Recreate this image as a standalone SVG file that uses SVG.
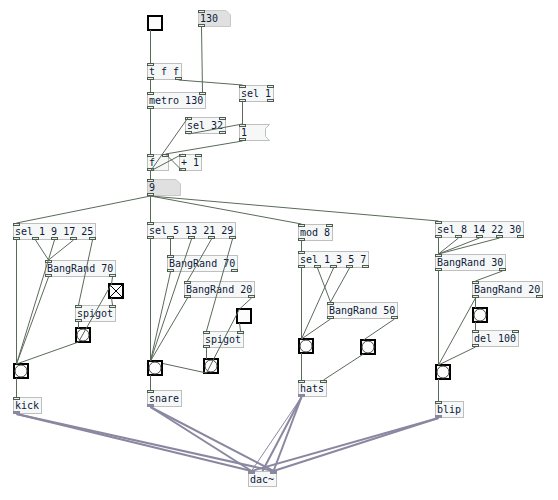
<svg xmlns="http://www.w3.org/2000/svg" xmlns:xlink="http://www.w3.org/1999/xlink" width="558" height="500" viewBox="0 0 558 500">
<style>
.box{fill:#f6f8f8;stroke:#bfbfbf;stroke-width:1}
.atom{fill:#e0e0e0;stroke:#c8c8c8;stroke-width:1}
.t{font-family:"DejaVu Sans Mono",monospace;font-size:10px;fill:#0d1a3a}
.c{stroke:#5a6a5a;stroke-width:1;fill:none}
.s{stroke:#8a88a0;stroke-width:2;fill:none}
.gui{fill:#fcfcfc;stroke:#000;stroke-width:2}
.ring{fill:none;stroke:#444;stroke-width:1}
.x{stroke:#000;stroke-width:1}
</style>
<defs>
<rect id="io" x="0.5" y="0.5" width="6" height="2" fill="#e8eee8" stroke="#4e5e4e" stroke-width="1"/>
<rect id="sio" x="0" y="0" width="7" height="3" fill="#8a88a0"/>
</defs>
<rect width="558" height="500" fill="#fff"/>

<g id="nodes">
<g id="toggle-start"><rect class="gui" x="148" y="16" width="14" height="14"/></g>
<g id="atom-130"><polygon class="atom" points="198.5,10.5 226,10.5 230.5,15 230.5,26.5 198.5,26.5"/><text class="t" x="200" y="22">130</text><use href="#io" x="198" y="10"/><use href="#io" x="198" y="24"/></g>
<g id="tff"><rect class="box" x="147.5" y="63.5" width="34" height="16"/><text class="t" x="149" y="75">t f f</text><use href="#io" x="147" y="63"/><use href="#io" x="147" y="77"/><use href="#io" x="175" y="77"/></g>
<g id="metro"><rect class="box" x="147.5" y="92.5" width="58" height="16"/><text class="t" x="149" y="104">metro 130</text><use href="#io" x="147" y="92"/><use href="#io" x="199" y="92"/><use href="#io" x="147" y="106"/></g>
<g id="sel1"><rect class="box" x="239.5" y="85.5" width="34" height="16"/><text class="t" x="241" y="97">sel 1</text><use href="#io" x="239" y="85"/><use href="#io" x="267" y="85"/><use href="#io" x="239" y="99"/><use href="#io" x="267" y="99"/></g>
<g id="sel32"><rect class="box" x="185.5" y="117.5" width="40" height="16"/><text class="t" x="187" y="129">sel 32</text><use href="#io" x="185" y="117"/><use href="#io" x="219" y="117"/><use href="#io" x="185" y="131"/><use href="#io" x="219" y="131"/></g>
<g id="msg1"><polygon class="box" points="239.5,124.5 269.5,124.5 265.5,128.5 265.5,136.5 269.5,140.5 239.5,140.5"/><text class="t" x="241" y="136">1</text><use href="#io" x="239" y="124"/><use href="#io" x="239" y="138"/></g>
<g id="f"><rect class="box" x="147.5" y="154.5" width="21" height="16"/><text class="t" x="149" y="166">f</text><use href="#io" x="147" y="154"/><use href="#io" x="162" y="154"/><use href="#io" x="147" y="168"/></g>
<g id="plus1"><rect class="box" x="179.5" y="154.5" width="22" height="16"/><text class="t" x="181" y="166">+ 1</text><use href="#io" x="179" y="154"/><use href="#io" x="195" y="154"/><use href="#io" x="179" y="168"/></g>
<g id="num9"><polygon class="atom" points="147.5,179.5 176,179.5 180.5,184 180.5,195.5 147.5,195.5"/><text class="t" x="149" y="191">9</text><use href="#io" x="147" y="179"/><use href="#io" x="147" y="193"/></g>

<g id="selA"><rect class="box" x="13.5" y="223.5" width="82" height="16"/><text class="t" x="15" y="235">sel 1 9 17 25</text><use href="#io" x="13" y="223"/><use href="#io" x="13" y="237"/><use href="#io" x="32" y="237"/><use href="#io" x="51" y="237"/><use href="#io" x="70" y="237"/><use href="#io" x="89" y="237"/></g>
<g id="br70a"><rect class="box" x="45.5" y="260.5" width="70" height="16"/><text class="t" x="47" y="272">BangRand 70</text><use href="#io" x="45" y="260"/><use href="#io" x="45" y="274"/><use href="#io" x="109" y="274"/></g>
<g id="togA"><rect class="gui" x="109" y="284" width="14" height="14"/><line class="x" x1="110" y1="285" x2="122" y2="297"/><line class="x" x1="122" y1="285" x2="110" y2="297"/></g>
<g id="spigotA"><rect class="box" x="75.5" y="305.5" width="40" height="16"/><text class="t" x="77" y="317">spigot</text><use href="#io" x="75" y="305"/><use href="#io" x="109" y="305"/><use href="#io" x="75" y="319"/></g>
<g id="bangA2"><rect class="gui" x="76" y="328" width="14" height="14"/><circle class="ring" cx="83" cy="335" r="6"/></g>
<g id="bangA1"><rect class="gui" x="14" y="364" width="14" height="14"/><circle class="ring" cx="21" cy="371" r="6"/></g>
<g id="kick"><rect class="box" x="13.5" y="397.5" width="28" height="16"/><text class="t" x="15" y="409">kick</text><use href="#io" x="13" y="397"/><use href="#sio" x="13" y="411"/></g>

<g id="selB"><rect class="box" x="147.5" y="222.5" width="88" height="16"/><text class="t" x="149" y="234">sel 5 13 21 29</text><use href="#io" x="147" y="222"/><use href="#io" x="147" y="236"/><use href="#io" x="167" y="236"/><use href="#io" x="188" y="236"/><use href="#io" x="208" y="236"/><use href="#io" x="229" y="236"/></g>
<g id="br70b"><rect class="box" x="167.5" y="255.5" width="70" height="16"/><text class="t" x="169" y="267">BangRand 70</text><use href="#io" x="167" y="255"/><use href="#io" x="167" y="269"/><use href="#io" x="231" y="269"/></g>
<g id="br20b"><rect class="box" x="184.5" y="281.5" width="70" height="16"/><text class="t" x="186" y="293">BangRand 20</text><use href="#io" x="184" y="281"/><use href="#io" x="184" y="295"/><use href="#io" x="248" y="295"/></g>
<g id="togB"><rect class="gui" x="237" y="309" width="14" height="14"/></g>
<g id="spigotB"><rect class="box" x="203.5" y="331.5" width="40" height="16"/><text class="t" x="205" y="343">spigot</text><use href="#io" x="203" y="331"/><use href="#io" x="237" y="331"/><use href="#io" x="203" y="345"/></g>
<g id="bangB2"><rect class="gui" x="204" y="359" width="14" height="14"/><circle class="ring" cx="211" cy="366" r="6"/></g>
<g id="bangB1"><rect class="gui" x="148" y="361" width="14" height="14"/><circle class="ring" cx="155" cy="368" r="6"/></g>
<g id="snare"><rect class="box" x="147.5" y="390.5" width="34" height="16"/><text class="t" x="149" y="402">snare</text><use href="#io" x="147" y="390"/><use href="#sio" x="147" y="404"/></g>

<g id="mod8"><rect class="box" x="298.5" y="224.5" width="34" height="16"/><text class="t" x="300" y="236">mod 8</text><use href="#io" x="298" y="224"/><use href="#io" x="326" y="224"/><use href="#io" x="298" y="238"/></g>
<g id="selC"><rect class="box" x="298.5" y="251.5" width="70" height="16"/><text class="t" x="300" y="263">sel 1 3 5 7</text><use href="#io" x="298" y="251"/><use href="#io" x="298" y="265"/><use href="#io" x="314" y="265"/><use href="#io" x="330" y="265"/><use href="#io" x="346" y="265"/><use href="#io" x="362" y="265"/></g>
<g id="br50"><rect class="box" x="327.5" y="302.5" width="70" height="16"/><text class="t" x="329" y="314">BangRand 50</text><use href="#io" x="327" y="302"/><use href="#io" x="327" y="316"/><use href="#io" x="391" y="316"/></g>
<g id="bangC1"><rect class="gui" x="299" y="339" width="14" height="14"/><circle class="ring" cx="306" cy="346" r="6"/></g>
<g id="bangC2"><rect class="gui" x="361" y="340" width="14" height="14"/><circle class="ring" cx="368" cy="347" r="6"/></g>
<g id="hats"><rect class="box" x="298.5" y="380.5" width="28" height="16"/><text class="t" x="300" y="392">hats</text><use href="#io" x="298" y="380"/><use href="#io" x="320" y="380"/><use href="#sio" x="298" y="394"/></g>

<g id="selD"><rect class="box" x="435.5" y="221.5" width="88" height="16"/><text class="t" x="437" y="233">sel 8 14 22 30</text><use href="#io" x="435" y="221"/><use href="#io" x="435" y="235"/><use href="#io" x="455" y="235"/><use href="#io" x="476" y="235"/><use href="#io" x="496" y="235"/><use href="#io" x="517" y="235"/></g>
<g id="br30"><rect class="box" x="435.5" y="254.5" width="70" height="16"/><text class="t" x="437" y="266">BangRand 30</text><use href="#io" x="435" y="254"/><use href="#io" x="435" y="268"/><use href="#io" x="499" y="268"/></g>
<g id="br20d"><rect class="box" x="472.5" y="281.5" width="70" height="16"/><text class="t" x="474" y="293">BangRand 20</text><use href="#io" x="472" y="281"/><use href="#io" x="472" y="295"/><use href="#io" x="536" y="295"/></g>
<g id="bangD2"><rect class="gui" x="473" y="308" width="14" height="14"/><circle class="ring" cx="480" cy="315" r="6"/></g>
<g id="del100"><rect class="box" x="472.5" y="330.5" width="46" height="16"/><text class="t" x="474" y="342">del 100</text><use href="#io" x="472" y="330"/><use href="#io" x="512" y="330"/><use href="#io" x="472" y="344"/></g>
<g id="bangD1"><rect class="gui" x="436" y="365" width="14" height="14"/><circle class="ring" cx="443" cy="372" r="6"/></g>
<g id="blip"><rect class="box" x="435.5" y="401.5" width="28" height="16"/><text class="t" x="437" y="413">blip</text><use href="#io" x="435" y="401"/><use href="#sio" x="435" y="415"/></g>

<g id="dac"><rect class="box" x="248.5" y="471.5" width="28" height="15"/><text class="t" x="250" y="483">dac~</text><use href="#sio" x="248" y="471"/><use href="#sio" x="270" y="471"/></g>
</g>

<g id="connectors">
<g class="c">
<line x1="150.5" y1="30" x2="150.5" y2="63"/>
<line x1="201.5" y1="27" x2="202.5" y2="92"/>
<line x1="150.5" y1="80" x2="150.5" y2="92"/>
<line x1="178.5" y1="80" x2="242.5" y2="85"/>
<line x1="150.5" y1="109" x2="150.5" y2="154"/>
<line x1="242.5" y1="102" x2="242.5" y2="124"/>
<line x1="188.5" y1="134" x2="242.5" y2="124"/>
<line x1="242.5" y1="141" x2="165.5" y2="154"/>
<line x1="150.5" y1="171" x2="188.5" y2="117"/>
<line x1="150.5" y1="171" x2="182.5" y2="154"/>
<line x1="182.5" y1="171" x2="165.5" y2="154"/>
<line x1="150.5" y1="171" x2="150.5" y2="179"/>
<line x1="150.5" y1="196" x2="16.5" y2="223"/>
<line x1="150.5" y1="196" x2="150.5" y2="222"/>
<line x1="150.5" y1="196" x2="301.5" y2="224"/>
<line x1="150.5" y1="196" x2="438.5" y2="221"/>

<line x1="16.5" y1="240" x2="16.5" y2="364"/>
<line x1="35.5" y1="240" x2="48.5" y2="260"/>
<line x1="73.5" y1="240" x2="48.5" y2="260"/>
<line x1="54.5" y1="240" x2="16.5" y2="364"/>
<line x1="92.5" y1="240" x2="78.5" y2="305"/>
<line x1="48.5" y1="277" x2="16.5" y2="364"/>
<line x1="112.5" y1="277" x2="111.5" y2="284"/>
<line x1="111.5" y1="298" x2="112.5" y2="305"/>
<line x1="78.5" y1="322" x2="78.5" y2="328"/>
<line x1="78.5" y1="342" x2="111.5" y2="284"/>
<line x1="78.5" y1="342" x2="16.5" y2="364"/>
<line x1="16.5" y1="378" x2="16.5" y2="397"/>

<line x1="150.5" y1="239" x2="150.5" y2="361"/>
<line x1="170.5" y1="239" x2="170.5" y2="255"/>
<line x1="191.5" y1="239" x2="150.5" y2="361"/>
<line x1="211.5" y1="239" x2="187.5" y2="281"/>
<line x1="232.5" y1="239" x2="206.5" y2="331"/>
<line x1="170.5" y1="272" x2="150.5" y2="361"/>
<line x1="187.5" y1="298" x2="150.5" y2="361"/>
<line x1="251.5" y1="298" x2="239.5" y2="309"/>
<line x1="239.5" y1="323" x2="240.5" y2="331"/>
<line x1="206.5" y1="348" x2="206.5" y2="359"/>
<line x1="206.5" y1="373" x2="239.5" y2="309"/>
<line x1="206.5" y1="373" x2="163" y2="363.5"/>
<line x1="150.5" y1="375" x2="150.5" y2="390"/>

<line x1="301.5" y1="241" x2="301.5" y2="251"/>
<line x1="301.5" y1="268" x2="301.5" y2="339"/>
<line x1="317.5" y1="268" x2="330.5" y2="302"/>
<line x1="333.5" y1="268" x2="301.5" y2="339"/>
<line x1="349.5" y1="268" x2="330.5" y2="302"/>
<line x1="330.5" y1="319" x2="301.5" y2="339"/>
<line x1="394.5" y1="319" x2="363.5" y2="340"/>
<line x1="363.5" y1="354" x2="323.5" y2="380"/>
<line x1="301.5" y1="353" x2="301.5" y2="380"/>

<line x1="438.5" y1="238" x2="438.5" y2="254"/>
<line x1="458.5" y1="238" x2="438.5" y2="254"/>
<line x1="479.5" y1="238" x2="438.5" y2="254"/>
<line x1="499.5" y1="238" x2="438.5" y2="254"/>
<line x1="438.5" y1="271" x2="438.5" y2="365"/>
<line x1="502.5" y1="271" x2="475.5" y2="281"/>
<line x1="475.5" y1="298" x2="475.5" y2="308"/>
<line x1="475.5" y1="298" x2="438.5" y2="365"/>
<line x1="475.5" y1="322" x2="475.5" y2="330"/>
<line x1="475.5" y1="347" x2="438.5" y2="365"/>
<line x1="438.5" y1="379" x2="438.5" y2="401"/>
</g>
<g class="s">
<line x1="16.5" y1="414" x2="251.5" y2="471"/>
<line x1="16.5" y1="414" x2="273.5" y2="471"/>
<line x1="150.5" y1="407" x2="251.5" y2="471"/>
<line x1="150.5" y1="407" x2="273.5" y2="471"/>
<line x1="301.5" y1="397" x2="251.5" y2="471" stroke-width="1"/>
<line x1="301.5" y1="397" x2="262.5" y2="471"/>
<line x1="301.5" y1="397" x2="273.5" y2="471"/>
<line x1="438.5" y1="418" x2="251.5" y2="471"/>
<line x1="438.5" y1="418" x2="273.5" y2="471"/>
</g>
</g>
</svg>
